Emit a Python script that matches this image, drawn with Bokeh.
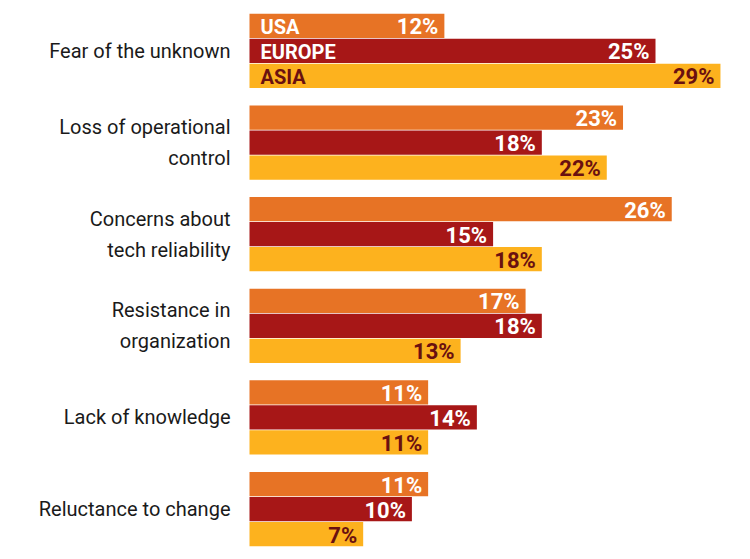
from bokeh.plotting import figure
from bokeh.models import ColumnDataSource, FactorRange, Range1d
from bokeh.core.properties import value
from bokeh.embed import file_html
from bokeh.resources import INLINE

categories = ["Fear of the unknown", "Loss of operational control",
              "Concerns about tech reliability", "Resistance in organization",
              "Lack of knowledge", "Reluctance to change"]
cat_labels = ["Fear of the unknown", "Loss of operational\ncontrol",
              "Concerns about\ntech reliability", "Resistance in\norganization",
              "Lack of knowledge", "Reluctance to change"]
series = ["USA", "EUROPE", "ASIA"]
usa = [12, 23, 26, 17, 11, 11]
europe = [25, 18, 15, 18, 14, 10]
asia = [29, 22, 18, 13, 11, 7]

colors = {"USA": "#E77325", "EUROPE": "#A71717", "ASIA": "#FDB21E"}
text_colors = {"USA": "white", "EUROPE": "white", "ASIA": "#6A1010"}
vals = {"USA": usa, "EUROPE": europe, "ASIA": asia}

FONT = "Roboto"

# factors bottom-to-top
factors = []
for c in reversed(categories):
    for s in reversed(series):
        factors.append((c, s))

ys, xs, fills, tcols, texts = [], [], [], [], []
for i, c in enumerate(categories):
    for s in series:
        ys.append((c, s))
        v = vals[s][i]
        xs.append(v)
        fills.append(colors[s])
        tcols.append(text_colors[s])
        texts.append(f"{v}%")
src = ColumnDataSource(dict(y=ys, x=xs, fill=fills, tcol=tcols, text=texts))

px_per_unit = 16.24
left_px = 249
x_start = -left_px / px_per_unit
x_end = x_start + 750 / px_per_unit

p = figure(width=750, height=559, output_backend="svg", toolbar_location=None,
           x_range=Range1d(x_start, x_end),
           y_range=FactorRange(factors=factors, group_padding=0.67,
                               range_padding=0.52, range_padding_units="absolute"),
           min_border=0, min_border_left=0, min_border_right=0,
           min_border_top=0, min_border_bottom=0)
p.axis.visible = False
p.grid.visible = False
p.outline_line_color = None
p.background_fill_color = "white"
p.border_fill_color = "white"

p.hbar(y="y", left=0, right="x", height=0.97, fill_color="fill", line_color=None, source=src)

p.text(x="x", y="y", text="text", text_color="tcol", source=src,
       text_align="right", text_baseline="middle", x_offset=-6, y_offset=1,
       text_font=value(FONT), text_font_style="bold", text_font_size="22px")

# series names in first group
first = categories[0]
sname_src = ColumnDataSource(dict(y=[(first, s) for s in series], x=[0] * 3,
                                  text=series, tcol=[text_colors[s] for s in series]))
p.text(x="x", y="y", text="text", text_color="tcol", source=sname_src,
       text_align="left", text_baseline="middle", x_offset=11, y_offset=1,
       text_font=value(FONT), text_font_style="bold", text_font_size="20px")

# category labels
cat_src = ColumnDataSource(dict(y=[(c, "EUROPE") for c in categories],
                                x=[0] * len(categories), text=cat_labels))
p.text(x="x", y="y", text="text", text_color="#1a1a1a", source=cat_src,
       text_align="right", text_baseline="middle", x_offset=-19,
       text_line_height=1.28,
       text_font=value(FONT), text_font_size="20px")

open("out.html", "w").write(file_html(p, INLINE))
